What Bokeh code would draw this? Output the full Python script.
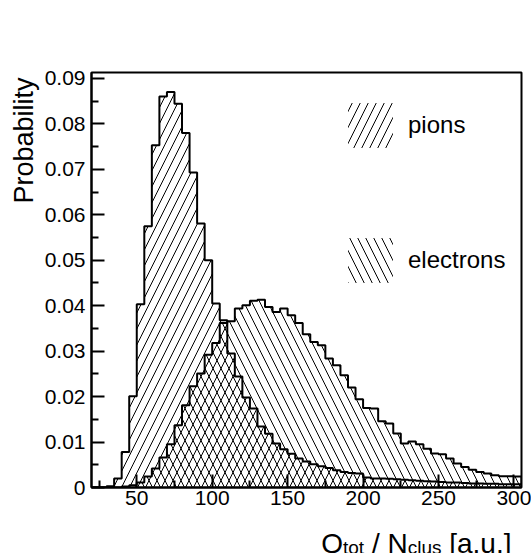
import numpy as np
from bokeh.plotting import figure
from bokeh.layouts import column
from bokeh.models import FixedTicker, Range1d, Label, Legend, LegendItem, Title
from bokeh.embed import file_html
from bokeh.resources import INLINE

# ---------------- data ----------------
bin_start = 20
bin_width = 5
pions = [0, 0, 0.0003, 0.0020, 0.0078, 0.0201, 0.0403, 0.0575, 0.0753, 0.0860,
         0.0870, 0.0844, 0.0780, 0.0693, 0.0581, 0.0500, 0.0405, 0.0368, 0.0295, 0.0244,
         0.0198, 0.0174, 0.0134, 0.0118, 0.0097, 0.0084, 0.0074, 0.0064, 0.0057, 0.0051,
         0.0047, 0.0043, 0.0038, 0.0034, 0.0032, 0.0031, 0.0022, 0.0020, 0.0020, 0.0019,
         0.0018, 0.0017, 0.0016, 0.0015, 0.0014, 0.0013, 0.0012, 0.0011, 0.0011, 0.0010,
         0.0009, 0.0009, 0.0008, 0.0008, 0.0007, 0.0007, 0.0007]
electrons = [0, 0, 0, 0, 0.0002, 0.0005, 0.0011, 0.0024, 0.0042, 0.0066,
             0.0095, 0.0137, 0.0181, 0.0223, 0.0251, 0.0292, 0.0318, 0.0362, 0.0366, 0.0394,
             0.0401, 0.0411, 0.0413, 0.0397, 0.0386, 0.0394, 0.0379, 0.0362, 0.0337, 0.0320,
             0.0313, 0.0284, 0.0269, 0.0247, 0.0220, 0.0194, 0.0175, 0.0174, 0.0146, 0.0141,
             0.0119, 0.0097, 0.0101, 0.0095, 0.0085, 0.0075, 0.0073, 0.0064, 0.0053, 0.0045,
             0.0039, 0.0034, 0.0031, 0.0027, 0.0025, 0.0025, 0.0024]
series_labels = ["pions", "electrons"]
x_ticks = [50, 100, 150, 200, 250, 300]
x_minor_ticks = [25, 75, 125, 175, 225, 275]
y_ticks = [0.0, 0.01, 0.02, 0.03, 0.04, 0.05, 0.06, 0.07, 0.08, 0.09]
y_tick_labels = ["0", "0.01", "0.02", "0.03", "0.04", "0.05", "0.06", "0.07", "0.08", "0.09"]
y_minor_ticks = [0.005, 0.015, 0.025, 0.035, 0.045, 0.055, 0.065, 0.075, 0.085]
NBSP = "\u00a0"
x_title_parts = [("Q", False), ("tot", True), (NBSP + "/ N", False), ("clus", True),
                 (NBSP + "[a.u.]", False)]
y_title = "Probability"

X0, X1 = 20, 305
Y0, Y1 = 0, 0.0913

FONT = "Liberation Sans"
W = 531
H_MAIN, H_TITLE = 514, 39
ML, MR, MT = 91, 10, 72
MB = H_MAIN - 487

p = figure(width=W, height=H_MAIN, output_backend="svg", toolbar_location=None,
           x_range=Range1d(X0, X1), y_range=Range1d(Y0, Y1),
           min_border_left=ML, min_border_right=MR, min_border_top=MT, min_border_bottom=MB)
p.background_fill_color = "white"
p.border_fill_color = "white"
p.grid.visible = False
p.outline_line_color = "black"
p.outline_line_width = 2

edges = bin_start + bin_width * np.arange(len(pions) + 1)


def outline(vals):
    v = np.asarray(vals, dtype=float)
    xs = np.repeat(edges, 2)
    ys = np.concatenate([[0.0], np.repeat(v, 2), [0.0]])
    return xs, ys


renderers = []
for vals, pat in [(pions, "/"), (electrons, "\\")]:
    y2 = np.append(vals, vals[-1])
    r = p.varea_step(x=edges, y1=np.zeros(len(edges)), y2=y2, step_mode="after",
                     fill_color=None, fill_alpha=0, hatch_pattern=pat, hatch_color="black",
                     hatch_weight=1, hatch_scale=16, hatch_alpha=1)
    renderers.append(r)

for vals in [pions, electrons]:
    xs, ys = outline(vals)
    p.line(xs, ys, line_color="black", line_width=2)

legend = Legend(items=[LegendItem(label=series_labels[0], renderers=[renderers[0]]),
                       LegendItem(label=series_labels[1], renderers=[renderers[1]])],
                location=(251, 199), glyph_width=56, glyph_height=56, spacing=79,
                label_standoff=10, padding=0, margin=0, border_line_color=None,
                background_fill_alpha=0, label_text_font_size="24px", label_text_font=FONT,
                label_text_color="black")
p.add_layout(legend)

# axes
for ax in (p.xaxis[0], p.yaxis[0]):
    ax.axis_line_width = 2
    ax.axis_line_color = "black"
    ax.major_tick_in = 13
    ax.major_tick_out = 0
    ax.minor_tick_in = 7
    ax.minor_tick_out = 0
    ax.major_tick_line_width = 2
    ax.minor_tick_line_width = 2
    ax.major_tick_line_color = "black"
    ax.minor_tick_line_color = "black"
    ax.major_label_text_font = FONT
    ax.major_label_text_font_size = "21px"
    ax.major_label_text_color = "black"

p.xaxis.ticker = FixedTicker(ticks=x_ticks, minor_ticks=x_minor_ticks)
p.yaxis.ticker = FixedTicker(ticks=y_ticks, minor_ticks=y_minor_ticks)
p.yaxis.major_label_overrides = {v: l for v, l in zip(y_ticks, y_tick_labels)}
p.xaxis.major_label_standoff = 3
p.yaxis.major_label_standoff = 6

p.add_layout(Title(text=y_title, align="right", offset=5, standoff=6,
                   text_font=FONT, text_font_size="27px", text_font_style="normal",
                   text_color="black"), "left")

# x-axis title strip (subscripts need separate pieces); frame aligned with main frame
t = figure(width=W, height=H_TITLE, title=None,
           output_backend="svg", toolbar_location=None,
           x_range=Range1d(ML, W - MR), y_range=Range1d(0, H_TITLE),
           x_axis_location=None, y_axis_location=None,
           min_border=0, min_border_left=ML, min_border_right=MR,
           min_border_top=0, min_border_bottom=0)
t.outline_line_color = None
t.grid.visible = False
t.background_fill_color = "white"
t.border_fill_color = "white"

ADV = {'Q': 778, ' ': 278, NBSP: 278, '/': 278, 'N': 722, '[': 278, 'a': 556, '.': 278,
       'u': 556, ']': 278, 't': 278, 'o': 556, 'c': 500, 'l': 222, 's': 500}
MAIN, SUB = 28, 19


def tw(s, size):
    return sum(ADV[c] for c in s) * size / 1000.0


PAGE_H = H_MAIN + H_TITLE
x_right = 511
base_main = PAGE_H - 542.5
base_sub = PAGE_H - 547
cur = x_right
for txt, sub in reversed(x_title_parts):
    size = SUB if sub else MAIN
    t.add_layout(Label(x=cur, y=base_sub if sub else base_main, text=txt,
                       text_align="right", text_baseline="alphabetic",
                       text_font=FONT, text_font_size=f"{size}px", text_color="black"))
    cur -= tw(txt, size)

layout = column(p, t, spacing=0)
open("out.html", "w").write(file_html(layout, INLINE))
